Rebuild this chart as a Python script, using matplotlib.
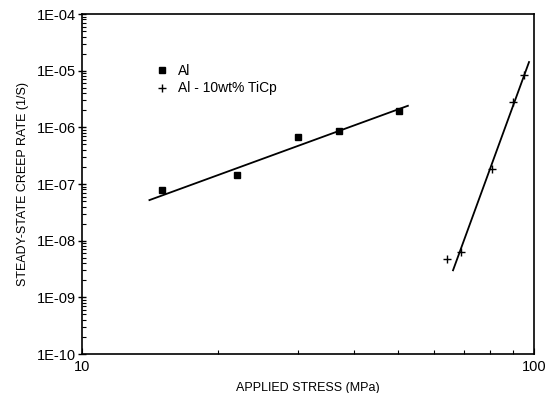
import math
import matplotlib
matplotlib.use('Agg')
import matplotlib.pyplot as plt
from matplotlib.ticker import FixedLocator, FuncFormatter, LogLocator, NullFormatter

plt.rcParams['font.family'] = ['Liberation Sans', 'DejaVu Sans']

# Al (unreinforced)
al_stress = [15.0, 22.0, 30.0, 37.0, 50.3]
al_rate = [7.8e-8, 1.45e-7, 6.8e-7, 8.6e-7, 1.95e-6]
al_fit_stress = [14.1, 52.6]
al_fit_rate = [5.2e-8, 2.4e-6]

# Al - 10wt% TiCp
mmc_stress = [64.2, 68.9, 80.7, 89.9, 95.0]
mmc_rate = [4.8e-9, 6.3e-9, 1.85e-7, 2.8e-6, 8.4e-6]
mmc_fit_stress = [66.2, 97.5]
mmc_fit_rate = [3.0e-9, 1.42e-5]

y_ticks = [1e-10, 1e-9, 1e-8, 1e-7, 1e-6, 1e-5, 1e-4]
x_ticks = [10, 100]


def exp_label(v, pos):
    e = round(math.log10(v))
    return '1E-%02d' % -e


fig = plt.figure(figsize=(5.51, 3.93), dpi=100)
ax = fig.add_axes([82/551, 1 - 354/393, 452/551, 340/393])

ax.plot(al_fit_stress, al_fit_rate, color='black', lw=1.3)
ax.plot(mmc_fit_stress, mmc_fit_rate, color='black', lw=1.3)
ax.plot(al_stress, al_rate, 's', color='black', ms=4.5, ls='none', label='Al')
ax.plot(mmc_stress, mmc_rate, '+', color='black', ms=6, mew=1.0, ls='none',
        label='Al - 10wt% TiCp')

ax.set_xscale('log')
ax.set_yscale('log')
ax.set_xlim(10, 100)
ax.set_ylim(1e-10, 1e-4)

ax.yaxis.set_major_locator(FixedLocator(y_ticks))
ax.yaxis.set_major_formatter(FuncFormatter(exp_label))
ax.yaxis.set_minor_locator(LogLocator(base=10, subs=range(2, 10), numticks=20))
ax.yaxis.set_minor_formatter(NullFormatter())
ax.xaxis.set_major_locator(FixedLocator(x_ticks))
ax.xaxis.set_major_formatter(FuncFormatter(lambda v, p: '%d' % v))
ax.xaxis.set_minor_locator(LogLocator(base=10, subs=range(2, 10), numticks=20))
ax.xaxis.set_minor_formatter(NullFormatter())

ax.tick_params(axis='y', which='major', direction='inout', length=6, width=1, labelsize=10.5, pad=1)
ax.tick_params(axis='y', which='minor', direction='in', length=3, width=0.8)
ax.tick_params(axis='x', which='major', direction='in', length=4, labelsize=10.5, pad=4)
ax.tick_params(axis='x', which='minor', direction='in', length=3, width=0.8)
for s in ax.spines.values():
    s.set_linewidth(1.2)

ax.set_xlabel('APPLIED STRESS (MPa)', fontsize=9, labelpad=6)
ax.set_ylabel('STEADY-STATE CREEP RATE (1/S)', fontsize=9, labelpad=6)

ax.legend(loc='upper left', bbox_to_anchor=(0.135, 0.89), frameon=False, fontsize=10,
          handlelength=1.0, handletextpad=0.6, labelspacing=0.25)

fig.savefig('out.png', dpi=100)
